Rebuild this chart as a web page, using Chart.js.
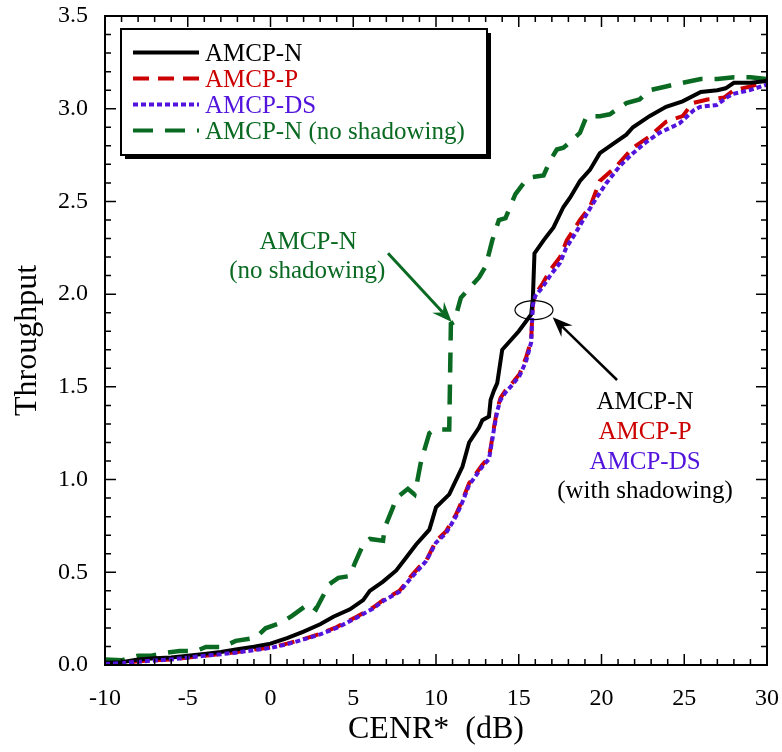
<!DOCTYPE html>
<html><head><meta charset="utf-8">
<script src="https://cdn.jsdelivr.net/npm/chart.js@4/dist/chart.umd.min.js"></script>
<style>html,body{margin:0;padding:0;background:#fff;}canvas{display:block;}</style>
</head><body>
<canvas id="c" width="782" height="752"></canvas>
<script>
// ---- data ----
const seriesNames = ['AMCP-N', 'AMCP-P', 'AMCP-DS', 'AMCP-N (no shadowing)'];
const xTickValues = [-10, -5, 0, 5, 10, 15, 20, 25, 30];
const xTickLabels = ['-10', '-5', '0', '5', '10', '15', '20', '25', '30'];
const yTickValues = [0, 0.5, 1, 1.5, 2, 2.5, 3, 3.5];
const yTickLabels = ['0.0', '0.5', '1.0', '1.5', '2.0', '2.5', '3.0', '3.5'];

// AMCP-N (with shadowing)
const nX = [-10,-9,-8,-7,-6,-5,-4,-3,-2,-1,0,1,2,3,3.8,4.8,5.6,6,6.8,7.6,8.2,8.8,9.6,10,10.8,11.6,12,12.6,12.8,13.2,13.3,13.5,13.7,14,15,15.75,15.85,15.95,16.5,17.1,17.7,18.1,18.7,19.3,19.9,20.7,21.5,21.9,22.9,23.9,24.9,26,27,27.5,28,29,30];
const nY = [0.012,0.015,0.03,0.036,0.04,0.05,0.06,0.07,0.085,0.098,0.115,0.145,0.18,0.22,0.26,0.30,0.35,0.40,0.45,0.51,0.58,0.65,0.73,0.85,0.92,1.07,1.2,1.28,1.32,1.34,1.43,1.48,1.52,1.70,1.80,1.89,1.97,2.22,2.29,2.36,2.47,2.52,2.61,2.67,2.76,2.81,2.86,2.90,2.96,3.01,3.04,3.09,3.10,3.11,3.14,3.14,3.15];
// AMCP-P
const pX = [-10,-9,-8,-7,-6,-5,-4,-3,-2,-1,0,1,2,3,4,5.2,6.2,6.8,7.8,8.4,9,9.4,10,10.6,11.2,11.6,12,12.8,13.2,13.3,13.5,13.7,13.9,14.2,14.7,15.05,15.45,15.75,15.85,16,16.46,16.9,17.5,17.9,18.7,19.3,19.9,20.9,21.9,22.9,23.9,24.9,25.5,26.4,27.4,28,29,30];
const pY = [0.005,0.01,0.02,0.025,0.03,0.04,0.05,0.06,0.07,0.083,0.094,0.115,0.14,0.168,0.205,0.26,0.31,0.35,0.40,0.47,0.53,0.56,0.67,0.72,0.81,0.89,0.98,1.08,1.12,1.17,1.28,1.38,1.44,1.48,1.53,1.57,1.66,1.75,1.95,2.0,2.06,2.13,2.20,2.29,2.40,2.47,2.61,2.69,2.79,2.85,2.93,2.96,3.03,3.05,3.06,3.10,3.12,3.15];
// AMCP-DS
const dX = [-10,-9,-8,-7,-6,-5,-4,-3,-2,-1,0,1,2,3,4,5.2,6.2,6.8,7.8,8.4,9,9.4,10,10.6,11.2,11.6,12,12.8,13.2,13.3,13.5,13.7,13.9,14.2,14.7,15.05,15.45,15.75,15.85,16,16.46,16.9,17.5,17.87,18.5,19.09,19.7,20.3,21.1,21.9,22.7,23.5,24.7,25.55,25.95,26.96,27.56,27.96,28.97,30];
const dY = [0.005,0.01,0.018,0.024,0.03,0.04,0.05,0.058,0.068,0.08,0.092,0.112,0.138,0.165,0.2,0.255,0.305,0.345,0.395,0.46,0.52,0.56,0.66,0.71,0.80,0.88,0.97,1.07,1.11,1.16,1.27,1.37,1.43,1.47,1.52,1.56,1.64,1.74,1.94,1.99,2.04,2.10,2.17,2.25,2.34,2.43,2.52,2.60,2.69,2.76,2.82,2.87,2.92,2.99,3.01,3.02,3.06,3.08,3.10,3.13];
// AMCP-N (no shadowing)
const sX = [-10,-9,-8,-7.2,-6.3,-5.5,-4.5,-3.9,-2.9,-2.1,-0.9,-0.3,0.7,1.3,2.3,2.75,3.55,4.1,4.8,5.1,5.6,6,6.8,6.9,7.4,7.6,8.3,8.7,8.8,9.1,9.6,9.9,10.8,10.9,11.1,11.5,12.6,13.0,13.4,13.8,14.2,14.8,15.4,15.7,16.5,16.9,17.3,17.7,18.1,18.7,19.1,19.9,20.5,21.5,22.3,22.9,23.9,24.9,26,27,28,29,30];
const sY = [0.03,0.025,0.05,0.05,0.066,0.076,0.076,0.097,0.097,0.13,0.147,0.198,0.23,0.265,0.33,0.30,0.436,0.47,0.48,0.55,0.65,0.68,0.67,0.74,0.85,0.90,0.95,0.92,0.96,1.10,1.25,1.27,1.27,1.84,1.85,1.98,2.09,2.15,2.29,2.40,2.41,2.54,2.61,2.63,2.64,2.72,2.78,2.79,2.82,2.87,2.96,2.96,2.97,3.03,3.05,3.10,3.12,3.14,3.16,3.16,3.17,3.17,3.16];

// ---- styles ----
const SERIF = '"Liberation Serif", "Times New Roman", serif';
const C_BLACK = '#000000', C_RED = '#cc0000', C_BLUE = '#5214dc', C_GREEN = '#0a6a22';

const pts = (xs, ys) => xs.map((x, i) => ({x, y: ys[i]}));

const datasets = [
  {label: seriesNames[0], data: pts(nX, nY), borderColor: C_BLACK, borderWidth: 4, borderDash: [], order: 1},
  {label: seriesNames[1], data: pts(pX, pY), borderColor: C_RED, borderWidth: 4, borderDash: [16, 9], order: 2},
  {label: seriesNames[2], data: pts(dX, dY), borderColor: C_BLUE, borderWidth: 4, borderDash: [5, 3], order: 0},
  {label: seriesNames[3], data: pts(sX, sY), borderColor: C_GREEN, borderWidth: 4.5, borderDash: [20, 12], order: 3}
].map(d => Object.assign(d, {showLine: true, pointRadius: 0, fill: false, tension: 0, clip: false, borderCapStyle: 'butt', borderJoinStyle: 'miter'}));

function arrow(ctx, x1, y1, x2, y2, color, lw) {
  const ang = Math.atan2(y2 - y1, x2 - x1);
  const L = 20, W = 8, notch = 7;
  ctx.save();
  ctx.strokeStyle = color; ctx.fillStyle = color; ctx.lineWidth = lw;
  ctx.beginPath();
  ctx.moveTo(x1, y1);
  ctx.lineTo(x2 - Math.cos(ang) * (L - notch), y2 - Math.sin(ang) * (L - notch));
  ctx.stroke();
  ctx.translate(x2, y2); ctx.rotate(ang);
  ctx.beginPath();
  ctx.moveTo(0, 0);
  ctx.lineTo(-L, -W);
  ctx.lineTo(-L + notch, 0);
  ctx.lineTo(-L, W);
  ctx.closePath();
  ctx.fill();
  ctx.restore();
}

const decorPlugin = {
  id: 'decor',
  afterDatasetsDraw(chart) {
    const {ctx, chartArea: a, scales: {x, y}} = chart;
    ctx.save();
    // frame
    ctx.strokeStyle = '#000'; ctx.lineWidth = 2;
    ctx.strokeRect(a.left, a.top, a.right - a.left, a.bottom - a.top);
    // inward ticks on all sides
    ctx.lineWidth = 1.5;
    ctx.beginPath();
    for (let i = -10; i <= 30; i++) {
      const px = x.getPixelForValue(i);
      const len = (i % 5 === 0) ? 11 : 6;
      ctx.moveTo(px, a.bottom); ctx.lineTo(px, a.bottom - len);
      ctx.moveTo(px, a.top); ctx.lineTo(px, a.top + len);
    }
    for (let i = 0; i <= 35; i++) {
      const py = y.getPixelForValue(i / 10);
      const len = (i % 5 === 0) ? 11 : 6;
      ctx.moveTo(a.left, py); ctx.lineTo(a.left + len, py);
      ctx.moveTo(a.right, py); ctx.lineTo(a.right - len, py);
    }
    ctx.stroke();

    // annotations (positions in data units through the scales)
    const X = v => x.getPixelForValue(v), Y = v => y.getPixelForValue(v);
    ctx.font = '25px ' + SERIF;
    ctx.textAlign = 'center'; ctx.textBaseline = 'middle';
    ctx.fillStyle = C_GREEN;
    ctx.fillText('AMCP-N', X(2.27), Y(2.28));
    ctx.fillText('(no shadowing)', X(2.22), Y(2.125));
    arrow(ctx, X(7.1), Y(2.22), X(10.95), Y(1.85), C_GREEN, 3);

    // ellipse
    ctx.strokeStyle = '#000'; ctx.lineWidth = 1.2;
    ctx.beginPath();
    ctx.ellipse(X(15.92), Y(1.914), 19, 9.5, 0, 0, Math.PI * 2);
    ctx.stroke();
    arrow(ctx, X(20.94), Y(1.537), X(17.05), Y(1.875), '#000', 2.5);

    ctx.fillStyle = C_BLACK; ctx.fillText('AMCP-N', X(22.63), Y(1.415));
    ctx.fillStyle = C_RED; ctx.fillText('AMCP-P', X(22.63), Y(1.255));
    ctx.fillStyle = C_BLUE; ctx.fillText('AMCP-DS', X(22.63), Y(1.093));
    ctx.fillStyle = C_BLACK; ctx.fillText('(with shadowing)', X(22.63), Y(0.935));

    // legend box with shadow
    const L = {x: 121, y: 29, w: 366, h: 126};
    ctx.fillStyle = '#000';
    ctx.fillRect(L.x + 4, L.y + 4, L.w, L.h);
    ctx.fillStyle = '#fff';
    ctx.fillRect(L.x, L.y, L.w, L.h);
    ctx.strokeStyle = '#000'; ctx.lineWidth = 2;
    ctx.strokeRect(L.x, L.y, L.w, L.h);
    ctx.textAlign = 'left';
    chart.data.datasets.forEach((ds, i) => {
      const cy = L.y + 23.5 + i * 26;
      ctx.save();
      ctx.strokeStyle = ds.borderColor; ctx.lineWidth = 4;
      ctx.setLineDash(ds.borderDash || []);
      ctx.lineCap = 'butt';
      ctx.beginPath(); ctx.moveTo(133, cy); ctx.lineTo(199, cy); ctx.stroke();
      ctx.restore();
      ctx.fillStyle = ds.borderColor;
      ctx.font = '25px ' + SERIF;
      ctx.fillText(ds.label, 205, cy + 2);
    });
    ctx.restore();
  }
};

new Chart(document.getElementById('c'), {
  type: 'scatter',
  data: {datasets},
  options: {
    responsive: false,
    animation: false,
    devicePixelRatio: 1,
    layout: {padding: {left: 0, right: 15, top: 16, bottom: 0}},
    plugins: {legend: {display: false}, tooltip: {enabled: false}},
    scales: {
      x: {
        type: 'linear', min: -10, max: 30,
        afterBuildTicks: s => { s.ticks = xTickValues.map(v => ({value: v})); },
        afterFit: s => { s.height = 87; s.paddingLeft = 0; s.paddingRight = 0; },
        grid: {display: false, drawTicks: false},
        border: {display: false},
        ticks: {
          font: {family: SERIF, size: 24}, color: '#000', padding: 19, maxRotation: 0, autoSkip: false,
          callback: v => xTickLabels[xTickValues.indexOf(v)]
        },
        title: {display: true, text: 'CENR*  (dB)', font: {family: SERIF, size: 32}, color: '#000', padding: {top: 0, bottom: 3}}
      },
      y: {
        type: 'linear', min: 0, max: 3.5,
        afterBuildTicks: s => { s.ticks = yTickValues.map(v => ({value: v})); },
        afterFit: s => { s.width = 105; s.paddingTop = 0; s.paddingBottom = 0; },
        grid: {display: false, drawTicks: false},
        border: {display: false},
        ticks: {
          font: {family: SERIF, size: 24}, color: '#000', padding: 17, autoSkip: false,
          callback: v => yTickLabels[yTickValues.indexOf(v)]
        },
        title: {display: true, text: 'Throughput', font: {family: SERIF, size: 32}, color: '#000', padding: {top: 8, bottom: 0}}
      }
    }
  },
  plugins: [decorPlugin]
});
</script>
</body></html>
